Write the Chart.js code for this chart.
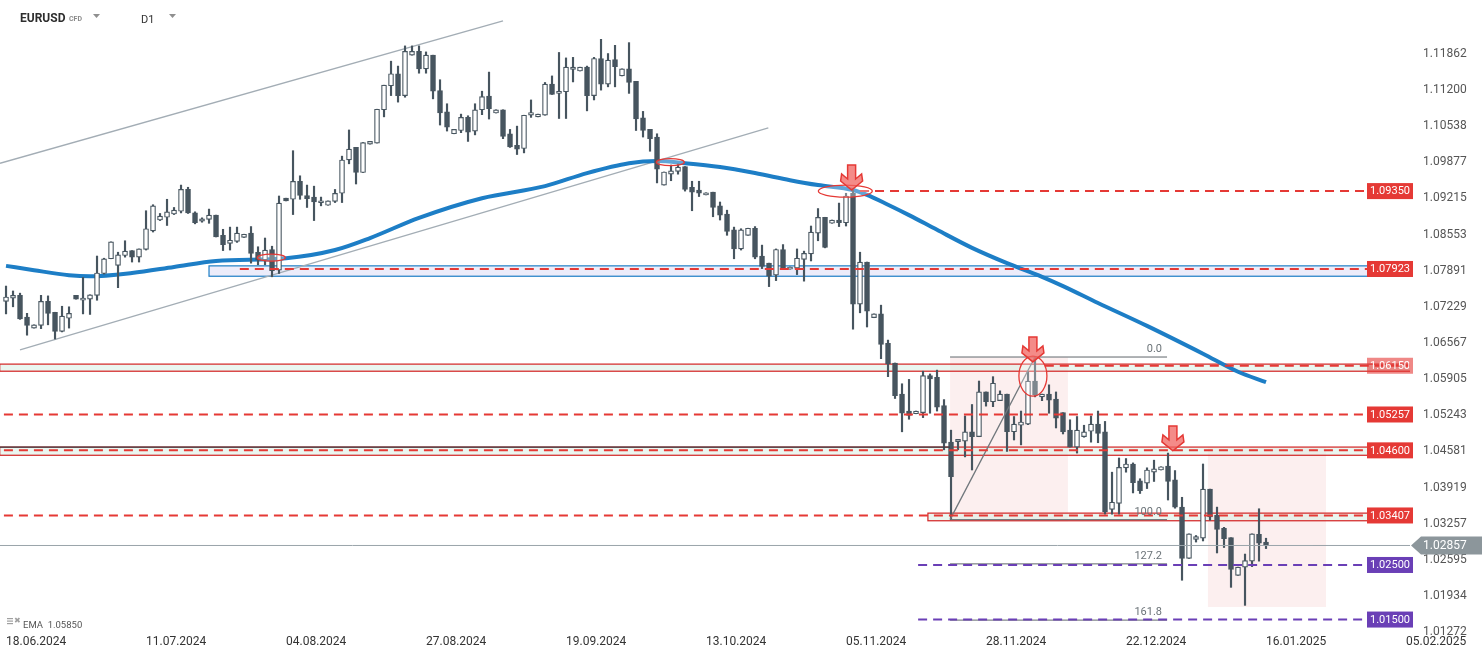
<!DOCTYPE html>
<html>
<head>
<meta charset="utf-8">
<script src="https://cdn.jsdelivr.net/npm/chart.js@4.4.1/dist/chart.umd.min.js"></script>
<style>
  html, body { margin: 0; padding: 0; background: #fff; overflow: hidden; }
</style>
</head>
<body>
<canvas id="chart" width="1482" height="658"></canvas>
<script>
"use strict";

// EURUSD D1, one candle per bar index (0 = 18.06.2024)
const opens = [
  1.0733, 1.0739, 1.0744, 1.0704, 1.0684, 1.0689, 1.0733, 1.0713, 1.0678, 1.0702,
  1.0744, 1.0735, 1.0737, 1.0744, 1.0784, 1.0811, 1.0799, 1.0817, 1.0826, 1.0814,
  1.0828, 1.0862, 1.0882, 1.0887, 1.0893, 1.0898, 1.0938, 1.0895, 1.0880, 1.0883,
  1.0891, 1.0854, 1.0839, 1.0843, 1.0850, 1.0858, 1.0823, 1.0809, 1.0828, 1.0790,
  1.0922, 1.0920, 1.0953, 1.0927, 1.0924, 1.0914, 1.0909, 1.0916, 1.0931, 1.0992,
  1.1015, 1.0969, 1.1021, 1.1023, 1.1084, 1.1128, 1.1150, 1.1110, 1.1184, 1.1191,
  1.1159, 1.1184, 1.1119, 1.1080, 1.1040, 1.1046, 1.1070, 1.1045, 1.1084, 1.1109,
  1.1078, 1.1084, 1.1040, 1.1019, 1.1013, 1.1074, 1.1071, 1.1074, 1.1131, 1.1114,
  1.1117, 1.1158, 1.1155, 1.1162, 1.1110, 1.1178, 1.1131, 1.1176, 1.1146, 1.1159,
  1.1136, 1.1069, 1.1048, 1.1034, 1.0946, 1.0966, 1.0971, 1.0980, 1.0942, 1.0937,
  1.0928, 1.0933, 1.0908, 1.0893, 1.0864, 1.0829, 1.0854, 1.0867, 1.0816, 1.0803,
  1.0781, 1.0828, 1.0792, 1.0794, 1.0810, 1.0820, 1.0858, 1.0887, 1.0876, 1.0882,
  1.0877, 1.0931, 1.0728, 1.0805, 1.0703, 1.0710, 1.0656, 1.0620, 1.0563, 1.0532,
  1.0527, 1.0529, 1.0597, 1.0594, 1.0542, 1.0475, 1.0476, 1.0477, 1.0494, 1.0485,
  1.0567, 1.0549, 1.0551, 1.0563, 1.0494, 1.0506, 1.0508, 1.0587, 1.0558, 1.0563,
  1.0554, 1.0529, 1.0497, 1.0466, 1.0485, 1.0495, 1.0508, 1.0494, 1.0352, 1.0363,
  1.0428, 1.0435, 1.0404, 1.0400, 1.0420, 1.0424, 1.0431, 1.0406, 1.0356, 1.0262,
  1.0297, 1.0299, 1.0389, 1.0341, 1.0317, 1.0300, 1.0231, 1.0246, 1.0257, 1.0306,
  1.0292
];
const highs = [
  1.0761, 1.0752, 1.0748, 1.0711, 1.0690, 1.0744, 1.0743, 1.0713, 1.0724, 1.0723,
  1.0744, 1.0777, 1.0745, 1.0816, 1.0812, 1.0842, 1.0823, 1.0844, 1.0826, 1.0829,
  1.0899, 1.0910, 1.0894, 1.0920, 1.0905, 1.0946, 1.0942, 1.0897, 1.0886, 1.0902,
  1.0891, 1.0865, 1.0869, 1.0869, 1.0856, 1.0870, 1.0833, 1.0849, 1.0834, 1.0926,
  1.0922, 1.1009, 1.0963, 1.0946, 1.0944, 1.0924, 1.0917, 1.0938, 1.0999, 1.1047,
  1.1015, 1.1024, 1.1026, 1.1085, 1.1129, 1.1173, 1.1164, 1.1201, 1.1201, 1.1201,
  1.1190, 1.1184, 1.1139, 1.1095, 1.1048, 1.1076, 1.1073, 1.1095, 1.1118, 1.1153,
  1.1084, 1.1084, 1.1048, 1.1054, 1.1074, 1.1102, 1.1076, 1.1134, 1.1146, 1.1189,
  1.1179, 1.1180, 1.1162, 1.1164, 1.1180, 1.1213, 1.1187, 1.1202, 1.1159, 1.1207,
  1.1136, 1.1081, 1.1048, 1.1040, 1.0970, 1.0983, 1.0985, 1.0980, 1.0953, 1.0953,
  1.0932, 1.0933, 1.0915, 1.0900, 1.0869, 1.0866, 1.0867, 1.0870, 1.0836, 1.0803,
  1.0829, 1.0837, 1.0796, 1.0829, 1.0825, 1.0871, 1.0903, 1.0887, 1.0882, 1.0913,
  1.0931, 1.0937, 1.0823, 1.0805, 1.0710, 1.0726, 1.0662, 1.0620, 1.0582, 1.0590,
  1.0532, 1.0605, 1.0600, 1.0607, 1.0553, 1.0497, 1.0480, 1.0523, 1.0544, 1.0587,
  1.0567, 1.0595, 1.0569, 1.0563, 1.0522, 1.0532, 1.0604, 1.0631, 1.0563, 1.0580,
  1.0567, 1.0529, 1.0516, 1.0522, 1.0506, 1.0523, 1.0532, 1.0513, 1.0420, 1.0446,
  1.0445, 1.0437, 1.0408, 1.0428, 1.0442, 1.0430, 1.0455, 1.0423, 1.0374, 1.0307,
  1.0304, 1.0435, 1.0389, 1.0356, 1.0319, 1.0300, 1.0246, 1.0270, 1.0307, 1.0353,
  1.0299
];
const lows = [
  1.0710, 1.0723, 1.0700, 1.0671, 1.0684, 1.0683, 1.0690, 1.0664, 1.0677, 1.0684,
  1.0737, 1.0710, 1.0709, 1.0735, 1.0783, 1.0811, 1.0758, 1.0814, 1.0805, 1.0805,
  1.0827, 1.0860, 1.0881, 1.0872, 1.0892, 1.0895, 1.0894, 1.0875, 1.0878, 1.0876,
  1.0851, 1.0826, 1.0827, 1.0841, 1.0850, 1.0803, 1.0800, 1.0800, 1.0778, 1.0784,
  1.0917, 1.0892, 1.0920, 1.0905, 1.0881, 1.0908, 1.0909, 1.0914, 1.0914, 1.0985,
  1.0948, 1.0969, 1.1021, 1.1023, 1.1071, 1.1110, 1.1098, 1.1107, 1.1184, 1.1151,
  1.1151, 1.1104, 1.1056, 1.1045, 1.1040, 1.1042, 1.1026, 1.1038, 1.1075, 1.1067,
  1.1078, 1.1031, 1.1015, 1.1002, 1.1005, 1.1070, 1.1071, 1.1074, 1.1112, 1.1068,
  1.1068, 1.1135, 1.1155, 1.1082, 1.1102, 1.1120, 1.1126, 1.1126, 1.1146, 1.1114,
  1.1046, 1.1034, 1.1008, 1.0950, 1.0946, 1.0954, 1.0966, 1.0935, 1.0899, 1.0925,
  1.0928, 1.0888, 1.0882, 1.0854, 1.0811, 1.0827, 1.0854, 1.0811, 1.0793, 1.0760,
  1.0771, 1.0793, 1.0792, 1.0782, 1.0770, 1.0807, 1.0844, 1.0831, 1.0876, 1.0870,
  1.0871, 1.0682, 1.0712, 1.0686, 1.0703, 1.0628, 1.0595, 1.0555, 1.0494, 1.0517,
  1.0527, 1.0520, 1.0528, 1.0532, 1.0461, 1.0334, 1.0461, 1.0448, 1.0424, 1.0485,
  1.0541, 1.0540, 1.0551, 1.0458, 1.0479, 1.0470, 1.0507, 1.0558, 1.0551, 1.0528,
  1.0501, 1.0490, 1.0466, 1.0455, 1.0484, 1.0475, 1.0474, 1.0343, 1.0343, 1.0343,
  1.0420, 1.0382, 1.0381, 1.0390, 1.0403, 1.0424, 1.0369, 1.0354, 1.0222, 1.0262,
  1.0292, 1.0294, 1.0332, 1.0272, 1.0282, 1.0209, 1.0231, 1.0176, 1.0247, 1.0257,
  1.0280
];
const closes = [
  1.0741, 1.0744, 1.0701, 1.0689, 1.0690, 1.0733, 1.0711, 1.0678, 1.0706, 1.0711,
  1.0737, 1.0739, 1.0745, 1.0785, 1.0811, 1.0842, 1.0818, 1.0825, 1.0814, 1.0829,
  1.0866, 1.0908, 1.0889, 1.0897, 1.0900, 1.0938, 1.0895, 1.0877, 1.0884, 1.0891,
  1.0851, 1.0837, 1.0845, 1.0858, 1.0856, 1.0821, 1.0809, 1.0827, 1.0789, 1.0913,
  1.0917, 1.0953, 1.0927, 1.0921, 1.0915, 1.0917, 1.0917, 1.0931, 1.0992, 1.1012,
  1.0969, 1.1024, 1.1026, 1.1085, 1.1129, 1.1150, 1.1110, 1.1191, 1.1191, 1.1159,
  1.1184, 1.1118, 1.1078, 1.1052, 1.1048, 1.1070, 1.1043, 1.1084, 1.1108, 1.1086,
  1.1084, 1.1035, 1.1016, 1.1012, 1.1074, 1.1079, 1.1076, 1.1131, 1.1112, 1.1118,
  1.1162, 1.1162, 1.1162, 1.1110, 1.1178, 1.1131, 1.1175, 1.1163, 1.1159, 1.1134,
  1.1067, 1.1046, 1.1031, 1.0975, 1.0970, 1.0972, 1.0979, 1.0938, 1.0933, 1.0931,
  1.0932, 1.0905, 1.0891, 1.0861, 1.0829, 1.0864, 1.0867, 1.0814, 1.0797, 1.0779,
  1.0828, 1.0793, 1.0796, 1.0812, 1.0821, 1.0860, 1.0887, 1.0832, 1.0882, 1.0877,
  1.0926, 1.0728, 1.0805, 1.0715, 1.0710, 1.0654, 1.0619, 1.0560, 1.0528, 1.0524,
  1.0532, 1.0597, 1.0591, 1.0539, 1.0473, 1.0412, 1.0480, 1.0494, 1.0485, 1.0567,
  1.0549, 1.0583, 1.0563, 1.0494, 1.0508, 1.0512, 1.0587, 1.0561, 1.0563, 1.0552,
  1.0519, 1.0494, 1.0466, 1.0497, 1.0494, 1.0508, 1.0491, 1.0347, 1.0365, 1.0429,
  1.0435, 1.0401, 1.0386, 1.0424, 1.0426, 1.0430, 1.0403, 1.0356, 1.0262, 1.0307,
  1.0302, 1.0389, 1.0338, 1.0315, 1.0298, 1.0242, 1.0246, 1.0258, 1.0307, 1.0290,
  1.0286
];

// EMA at these bar indexes
const emaIdx = [0, 4, 9, 12, 18, 24, 30, 40, 47, 52, 59, 68, 77, 83, 89, 93, 97, 102, 107,
  112, 116, 121, 123, 126, 129, 133, 138, 143, 148, 151, 156, 163, 171, 176, 180];
const emaVal = [1.0798, 1.0790, 1.0781, 1.0779, 1.0785, 1.0796, 1.0807, 1.0812, 1.0827,
  1.0849, 1.0886, 1.0922, 1.0944, 1.0968, 1.0986, 1.0990, 1.0986, 1.0979, 1.0968, 1.0955,
  1.0946, 1.0937, 1.0928, 1.0910, 1.0891, 1.0864, 1.0831, 1.0803, 1.0778, 1.0761, 1.0730,
  1.0688, 1.0637, 1.0604, 1.0585];

// axes
const yTicks = [1.11862, 1.11200, 1.10538, 1.09877, 1.09215, 1.08553, 1.07891, 1.07229,
  1.06567, 1.05905, 1.05243, 1.04581, 1.03919, 1.03257, 1.02595, 1.01934, 1.01272];
const dateLabels = ["18.06.2024", "11.07.2024", "04.08.2024", "27.08.2024", "19.09.2024",
  "13.10.2024", "05.11.2024", "28.11.2024", "22.12.2024", "16.01.2025", "05.02.2025"];
const dateIdx = [0, 20, 40, 60, 80, 100, 120, 140, 160, 180, 200];

// drawn levels
const redLevels = [1.09350, 1.07923, 1.06150, 1.05257, 1.04600, 1.03407];
const redStart = [122, 33.4, 148.4, -0.3, -0.3, -0.3];
const purpleLevels = [1.02500, 1.01500];
const purpleStart = [130.3, 130.3];
const lastPrice = 1.02857;

// trend channel (start idx, start price, end idx, end price)
const channelUpper = [-0.86, 1.0986, 71, 1.1247];
const channelLower = [2, 1.0644, 108.9, 1.1051];

// fibonacci from the swing low to the swing high
const fibNames = ["0.0", "100.0", "127.2", "161.8"];
const fibPrices = [1.0631, 1.0333, 1.0252, 1.0149];
const fibFrom = 134.86, fibTo = 165.86, fibHighIdx = 147;

// zones [x0, x1, top, bottom]
const pinkZones = [[134.86, 151.71, 1.0630, 1.0330], [171.71, 188.57, 1.0466, 1.0173]];
const redBands = [[-0.9, 201, 1.0618, 1.0605], [-0.9, 201, 1.0466, 1.0451], [131.7, 201, 1.0345, 1.0331]];
const blueBands = [[29, 201, 1.0798, 1.0779]];
const darkEdge = [-0.9, 134.86, 1.0466];

// markers [idx, price]
const ellipses = [[37.9, 1.0813, 14, 3.5], [94.9, 1.0988, 14, 3.5], [119.9, 1.0935, 27, 6], [146.7, 1.0596, 14, 20]];
const arrowTips = [[120.8, 1.0937], [146.7, 1.0622], [166.7, 1.0459]];

const X_MIN = -0.86, X_MAX = 200.57;
const Y_MIN = 1.01272, Y_MAX = 1.12851;
const CANDLE = "#47555f";
const RED = "#e53935";
const PURPLE = "#6a3fb6";
const FONT = "Roboto, 'Noto Sans', sans-serif";

const seg = (x0, y0, x1, y1) => [{ x: x0, y: y0 }, { x: x1, y: y1 }];

function levelSet(levels, starts, color) {
  return levels.map((v, k) => ({
    type: "line",
    data: seg(starts[k], v, X_MAX, v),
    borderColor: color,
    borderWidth: 2,
    borderDash: [9, 6],
    pointRadius: 0,
    order: -2,
  }));
}

function thinLine(data, color, width, order) {
  return { type: "line", data, borderColor: color, borderWidth: width, pointRadius: 0, order };
}

const datasets = [
  {
    type: "line",
    data: emaIdx.map((x, k) => ({ x, y: emaVal[k] })),
    borderColor: "#1d7ec6",
    borderWidth: 4,
    pointRadius: 0,
    cubicInterpolationMode: "monotone",
    order: 6,
  },
  thinLine(seg(...channelUpper), "#a3adb5", 1.3, 7),
  thinLine(seg(...channelLower), "#a3adb5", 1.3, 7),
  {
    type: "bar",
    data: opens.map((o, i) => ({ x: i, y: [lows[i], highs[i]] })),
    backgroundColor: CANDLE,
    barThickness: 1.5,
    grouped: false,
    order: 5,
  },
  {
    type: "bar",
    data: opens.map((o, i) => ({ x: i, y: [o, closes[i]] })),
    backgroundColor: opens.map((o, i) => (closes[i] >= o ? "#ffffff" : CANDLE)),
    borderColor: CANDLE,
    borderWidth: 1.2,
    borderSkipped: false,
    barThickness: 5,
    grouped: false,
    order: 4,
  },
  thinLine(seg(X_MIN, lastPrice, X_MAX, lastPrice), "#9aa4aa", 1, -1),
  thinLine(seg(darkEdge[0], darkEdge[2], darkEdge[1], darkEdge[2]), "#3a3f44", 1.2, -1),
  ...fibPrices.map((p) => thinLine(seg(fibFrom, p, fibTo, p), "#5f666b", 1, -1)),
  thinLine(seg(fibFrom, fibPrices[1], fibHighIdx, fibPrices[0]), "#70777c", 1.3, -1),
  ...levelSet(redLevels, redStart, RED),
  ...levelSet(purpleLevels, purpleStart, PURPLE),
];

function rectOf(x, y, r) {
  const l = x.getPixelForValue(r[0]), rr = x.getPixelForValue(r[1]);
  const t = y.getPixelForValue(r[2]), b = y.getPixelForValue(r[3]);
  return [l, t, rr - l, b - t];
}

function tri(ctx, cx, cy) {
  ctx.beginPath();
  ctx.moveTo(cx - 3.5, cy - 2);
  ctx.lineTo(cx + 3.5, cy - 2);
  ctx.lineTo(cx, cy + 2);
  ctx.closePath();
  ctx.fill();
}

const overlay = {
  id: "overlay",
  beforeDatasetsDraw(chart) {
    const { ctx, chartArea: a, scales: { x, y } } = chart;
    ctx.save();
    ctx.beginPath();
    ctx.rect(a.left, a.top, a.right - a.left, a.bottom - a.top);
    ctx.clip();
    ctx.fillStyle = "rgba(248, 214, 214, 0.38)";
    pinkZones.forEach((r) => ctx.fillRect(...rectOf(x, y, r)));
    ctx.lineWidth = 1.2;
    redBands.forEach((r) => {
      ctx.fillStyle = "rgba(214, 238, 226, 0.5)";
      ctx.fillRect(...rectOf(x, y, r));
      ctx.strokeStyle = "#d32222";
      ctx.strokeRect(...rectOf(x, y, r));
    });
    blueBands.forEach((r) => {
      ctx.fillStyle = "rgba(200, 200, 240, 0.35)";
      ctx.fillRect(...rectOf(x, y, r));
      ctx.strokeStyle = "#1d7ec6";
      ctx.strokeRect(...rectOf(x, y, r));
    });
    ctx.restore();
  },
  afterDatasetsDraw(chart) {
    const { ctx, scales: { x, y } } = chart;
    ctx.save();
    // ellipses
    ellipses.forEach(([i, p, rx, ry]) => {
      ctx.beginPath();
      ctx.ellipse(x.getPixelForValue(i), y.getPixelForValue(p), rx, ry, 0, 0, Math.PI * 2);
      ctx.fillStyle = "rgba(255, 255, 255, 0.3)";
      ctx.fill();
      ctx.strokeStyle = RED;
      ctx.lineWidth = 1.3;
      ctx.stroke();
    });
    // arrows
    arrowTips.forEach(([i, p]) => {
      const cx = x.getPixelForValue(i), cy = y.getPixelForValue(p);
      const pts = [[-4, -25], [4, -25], [4, -11], [10, -16], [11, -9], [0, 0], [-11, -9], [-10, -16], [-4, -11]];
      ctx.beginPath();
      pts.forEach(([dx, dy], k) => (k ? ctx.lineTo(cx + dx, cy + dy) : ctx.moveTo(cx + dx, cy + dy)));
      ctx.closePath();
      ctx.fillStyle = "rgba(240, 100, 96, 0.75)";
      ctx.fill();
      ctx.strokeStyle = RED;
      ctx.lineWidth = 1.5;
      ctx.stroke();
    });
    // fib labels
    ctx.font = `11px ${FONT}`;
    ctx.fillStyle = "#6b7378";
    ctx.textAlign = "right";
    ctx.textBaseline = "bottom";
    fibNames.forEach((n, k) => {
      ctx.fillText(n, x.getPixelForValue(fibTo) - 5, y.getPixelForValue(fibPrices[k]) - 2);
    });
    ctx.restore();
  },
  afterDraw(chart) {
    const { ctx, chartArea: a, scales: { x, y } } = chart;
    ctx.save();
    // level tags on the price axis
    ctx.font = `11px ${FONT}`;
    ctx.textAlign = "center";
    ctx.textBaseline = "middle";
    const tag = (v, color) => {
      const py = y.getPixelForValue(v);
      ctx.fillStyle = color;
      ctx.fillRect(a.right - 43, py - 8, 46, 16);
      ctx.fillStyle = "#fff";
      ctx.fillText(v.toFixed(5), a.right - 20, py + 0.5);
    };
    redLevels.forEach((v) => tag(v, v === 1.0615 ? "rgba(229, 57, 53, 0.6)" : RED));
    purpleLevels.forEach((v) => tag(v, PURPLE));

    // last price tag
    const py = y.getPixelForValue(lastPrice);
    ctx.beginPath();
    ctx.moveTo(a.right + 1, py);
    ctx.lineTo(a.right + 11, py - 9);
    ctx.lineTo(1482, py - 9);
    ctx.lineTo(1482, py + 9);
    ctx.lineTo(a.right + 11, py + 9);
    ctx.closePath();
    ctx.fillStyle = "#8c969b";
    ctx.fill();
    ctx.fillStyle = "#fff";
    ctx.font = `12px ${FONT}`;
    ctx.textAlign = "left";
    ctx.fillText(lastPrice.toFixed(5), a.right + 13, py + 0.5);

    // dates
    ctx.fillStyle = "#333";
    dateLabels.forEach((d, k) => ctx.fillText(d, x.getPixelForValue(dateIdx[k]), 641.5));

    // header
    ctx.fillStyle = "#2e2e2e";
    ctx.font = `bold 12px ${FONT}`;
    ctx.fillText("EURUSD", 20, 18.5);
    ctx.font = `bold 7px ${FONT}`;
    ctx.fillStyle = "#8a8a8a";
    ctx.fillText("CFD", 69, 19.5);
    ctx.fillStyle = "#333";
    ctx.font = `11px ${FONT}`;
    ctx.fillText("D1", 141, 20);
    ctx.fillStyle = "#8f8f8f";
    tri(ctx, 96.5, 16);
    tri(ctx, 172.5, 16);

    // indicator legend
    ctx.fillStyle = "#a0a0a0";
    ctx.fillRect(7, 618, 6, 1.2);
    ctx.fillRect(7, 620.5, 6, 1.2);
    ctx.fillRect(7, 623, 6, 1.2);
    ctx.font = `8px ${FONT}`;
    ctx.fillText("\u2716", 14, 621);
    ctx.fillStyle = "#555";
    ctx.font = `9.5px ${FONT}`;
    ctx.fillText("EMA  1.05850", 23, 626);
    ctx.restore();
  },
};

new Chart(document.getElementById("chart"), {
  type: "bar",
  data: { datasets },
  options: {
    responsive: false,
    animation: false,
    devicePixelRatio: 1,
    layout: { padding: { left: 0, right: 0, top: 0, bottom: 26 } },
    plugins: { legend: { display: false }, tooltip: { enabled: false } },
    scales: {
      x: { type: "linear", min: X_MIN, max: X_MAX, display: false, offset: false },
      y: {
        position: "right",
        min: Y_MIN,
        max: Y_MAX,
        grid: { display: false, drawTicks: false },
        border: { display: false },
        afterFit(s) {
          s.width = 72;
          s.paddingTop = 0;
          s.paddingBottom = 0;
        },
        afterBuildTicks(s) { s.ticks = yTicks.map((v) => ({ value: v })); },
        ticks: {
          padding: 13,
          autoSkip: false,
          color: "#555",
          font: { family: FONT, size: 12 },
          callback: (v) => v.toFixed(5),
        },
      },
    },
  },
  plugins: [overlay],
});
</script>
</body>
</html>
